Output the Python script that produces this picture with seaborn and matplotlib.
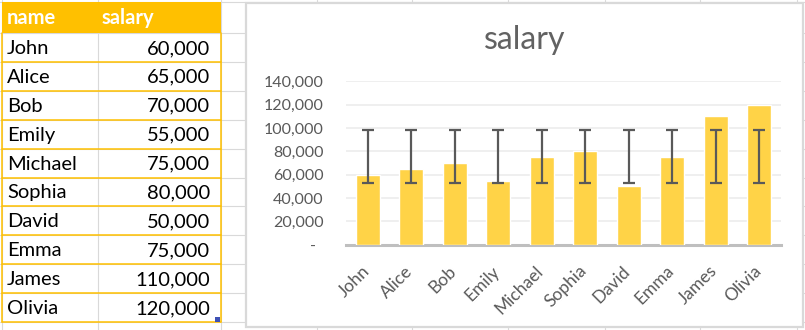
import matplotlib
matplotlib.use("Agg")
import matplotlib.pyplot as plt
from matplotlib.patches import Rectangle
from matplotlib.ticker import FuncFormatter
from matplotlib.transforms import ScaledTranslation
import numpy as np
import pandas as pd
import seaborn as sns

# Source data
names = ["John", "Alice", "Bob", "Emily", "Michael", "Sophia", "David", "Emma", "James", "Olivia"]
salaries = [60000, 65000, 70000, 55000, 75000, 80000, 50000, 75000, 110000, 120000]
header = ["name", "salary"]
y_ticks = [0, 20000, 40000, 60000, 80000, 100000, 120000, 140000]
chart_title = "salary"

sns.set_theme(style="white")
plt.rcParams["font.family"] = ["Lato", "DejaVu Sans"]

W, H = 805, 330
fig = plt.figure(figsize=(W / 100, H / 100), dpi=100)

# ---- worksheet layer (pixel coordinates) ----
bg = fig.add_axes([0, 0, 1, 1])
bg.set_xlim(0, W)
bg.set_ylim(H, 0)
bg.axis("off")

grid_c = "#d9d9d9"
col_edges = [2, 98, 221, 317, 412, 508, 605, 700, 797]
row_top = 2
row_h = 28.9
row_edges = [row_top] + [33 + i * row_h for i in range(len(names) + 1)]
for x in col_edges:
    bg.plot([x, x], [0, H], color=grid_c, lw=0.8, zorder=1)
for y in row_edges:
    bg.plot([0, W], [y, y], color=grid_c, lw=0.8, zorder=1)

gold = "#FFC000"
tbl_l, tbl_m, tbl_r = 2, 98, 221
cell_fs = 14.5
# header row
bg.add_patch(Rectangle((tbl_l, row_top), tbl_r - tbl_l, 33 - row_top,
                       facecolor=gold, edgecolor="none", zorder=2))
bg.text(tbl_l + 5, (row_top + 33) / 2 + 1, header[0], color="white",
        fontsize=cell_fs, fontweight="bold", va="center", ha="left", zorder=3)
bg.text(tbl_m + 4, (row_top + 33) / 2 + 1, header[1], color="white",
        fontsize=cell_fs, fontweight="bold", va="center", ha="left", zorder=3)

# body rows
for i, (n, s) in enumerate(zip(names, salaries)):
    top = 33 + i * row_h
    bot = top + row_h
    cy = (top + bot) / 2 + 1
    bg.text(tbl_l + 5, cy, n, color="black", fontsize=cell_fs, va="center", ha="left", zorder=3)
    bg.text(tbl_r - 11, cy, f"{s:,}", color="black", fontsize=cell_fs, va="center",
            ha="right", zorder=3)
    bg.plot([tbl_l, tbl_r], [bot, bot], color=gold, lw=1.1, zorder=2.5)
body_bottom = 33 + len(names) * row_h
bg.plot([tbl_l, tbl_l], [33, body_bottom], color=gold, lw=1.1, zorder=2.5)
bg.plot([tbl_r, tbl_r], [33, body_bottom], color=gold, lw=1.1, zorder=2.5)
bg.add_patch(Rectangle((tbl_r - 6, body_bottom - 5), 5, 5, facecolor="#3f51b5",
                       edgecolor="none", zorder=4))

# chart frame
bg.add_patch(Rectangle((246, 3), 557, 324, facecolor="white", edgecolor="#d9d9d9",
                       lw=1.6, zorder=5))
bg.text(524.5, 40, chart_title, color="#626262", fontsize=23,
        ha="center", va="center", zorder=6)

# ---- bar chart ----
plot_l, plot_r, plot_t, plot_b = 346, 781, 81.3, 244.75
ax = fig.add_axes([plot_l / W, (H - plot_b) / H, (plot_r - plot_l) / W, (plot_b - plot_t) / H])
ax.set_zorder(10)
ax.patch.set_alpha(0)

df = pd.DataFrame({"name": names, "salary": salaries})
sns.barplot(data=df, x="name", y="salary", color="#FFD347", saturation=1,
            width=0.55, errorbar=None, ax=ax, zorder=3)

# standard-deviation error bars around the series mean
vals = np.array(salaries, dtype=float)
mean, sd = vals.mean(), vals.std(ddof=1)
ax.errorbar(np.arange(len(names)), [mean] * len(names), yerr=sd, fmt="none",
            ecolor="#595959", elinewidth=1.6, capsize=4.3, capthick=1.6, zorder=4)

ax.set_xlim(-0.5, len(names) - 0.5)
ax.set_ylim(0, 140000)
ax.set_yticks(y_ticks)
ax.yaxis.set_major_formatter(FuncFormatter(lambda v, p: "-  " if v == 0 else f"{int(v):,}"))
ax.grid(axis="y", color="#efefef", lw=1.4, zorder=0)
ax.set_axisbelow(True)
for side in ["top", "left", "right"]:
    ax.spines[side].set_visible(False)
ax.spines["bottom"].set_color("#bfbfbf")
ax.spines["bottom"].set_linewidth(2.2)
ax.tick_params(axis="both", length=0, colors="#595959", labelsize=11.5)
ax.tick_params(axis="y", pad=16)
ax.tick_params(axis="x", pad=12, labelsize=12.5)
shift = ScaledTranslation(-0.01, -0.07, fig.dpi_scale_trans)
for lbl in ax.get_xticklabels():
    lbl.set_rotation(45)
    lbl.set_ha("right")
    lbl.set_va("center")
    lbl.set_rotation_mode("anchor")
    lbl.set_transform(lbl.get_transform() + shift)
ax.set_xlabel("")
ax.set_ylabel("")

fig.savefig("out.png", dpi=100)
